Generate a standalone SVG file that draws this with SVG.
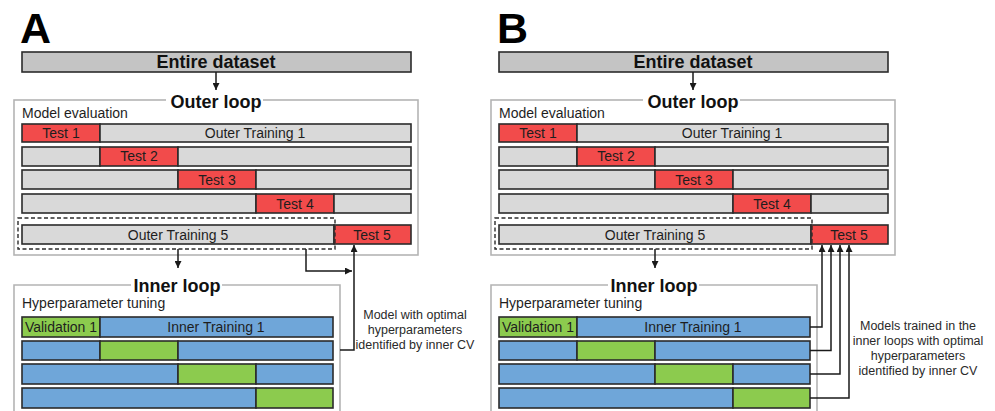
<svg xmlns="http://www.w3.org/2000/svg" width="995" height="411" viewBox="0 0 995 411">
<style>
text{font-family:"Liberation Sans",Arial,sans-serif;fill:#1e1e1e}
.big{font-size:43px;font-weight:bold;fill:#000}
.ttl{font-size:18px;font-weight:bold;text-anchor:middle;fill:#111}
.lbl{font-size:14px}
.seg{font-size:14px;text-anchor:middle}
.note{font-size:12.5px;text-anchor:middle;fill:#2a2a2a}
.bar{stroke:#2b2b2b;stroke-width:1.6}
.ds{fill:#c4c4c4}
.g{fill:#d9d9d9}
.r{fill:#f24b4b}
.b{fill:#6fa6d9}
.gr{fill:#8ccb4e}
.frame{fill:none;stroke:#b4b4b4;stroke-width:1.6}
.dash{fill:none;stroke:#2b2b2b;stroke-width:1.4;stroke-dasharray:4 2.5}
.ln{fill:none;stroke:#1a1a1a;stroke-width:1.5}
.bg{fill:#fff}
</style>
<defs>
<marker id="ah" viewBox="0 0 10 10" refX="10" refY="5" markerWidth="7" markerHeight="7" markerUnits="userSpaceOnUse" orient="auto">
<path d="M0,0 L10,5 L0,10 z" fill="#1a1a1a"/>
</marker>
</defs>

<!-- ============ PANEL A ============ -->
<g id="panelA">
<text class="big" x="20" y="43">A</text>

<g id="A-entire">
<rect class="bar ds" x="22" y="52" width="389" height="20"/>
<text class="ttl" x="216" y="68">Entire dataset</text>
</g>

<g id="A-outer">
<rect class="frame" x="14" y="100" width="404" height="155"/>
<rect class="bg" x="166" y="93" width="97" height="14"/>
<text class="ttl" x="216" y="108">Outer loop</text>
<text class="lbl" x="22" y="118">Model evaluation</text>
</g>

<g id="A-row1">
<rect class="bar r" x="22" y="124" width="78" height="18"/>
<rect class="bar g" x="100" y="124" width="311" height="18"/>
<text class="seg" x="61" y="138">Test 1</text>
<text class="seg" x="255" y="138">Outer Training 1</text>
</g>
<g id="A-row2">
<rect class="bar g" x="22" y="147" width="78" height="19"/>
<rect class="bar r" x="100" y="147" width="78" height="19"/>
<rect class="bar g" x="178" y="147" width="233" height="19"/>
<text class="seg" x="139" y="161">Test 2</text>
</g>
<g id="A-row3">
<rect class="bar g" x="22" y="170" width="156" height="19"/>
<rect class="bar r" x="178" y="170" width="78" height="19"/>
<rect class="bar g" x="256" y="170" width="155" height="19"/>
<text class="seg" x="217" y="185">Test 3</text>
</g>
<g id="A-row4">
<rect class="bar g" x="22" y="194" width="234" height="19"/>
<rect class="bar r" x="256" y="194" width="78" height="19"/>
<rect class="bar g" x="334" y="194" width="77" height="19"/>
<text class="seg" x="295" y="209">Test 4</text>
</g>
<g id="A-row5">
<rect class="bar g" x="22" y="225" width="312" height="19"/>
<rect class="bar r" x="334" y="225" width="77" height="19"/>
<rect class="dash" x="18" y="218" width="317" height="31"/>
<text class="seg" x="178" y="240">Outer Training 5</text>
<text class="seg" x="372" y="240">Test 5</text>
</g>

<g id="A-inner">
<path class="frame" d="M14,420 V285 H340 V420"/>
<rect class="bg" x="131" y="278" width="91" height="14"/>
<text class="ttl" x="177" y="292">Inner loop</text>
<text class="lbl" x="22" y="308">Hyperparameter tuning</text>
</g>
<g id="A-irow1">
<rect class="bar gr" x="22" y="317" width="78" height="20"/>
<rect class="bar b" x="100" y="317" width="233" height="20"/>
<text class="seg" x="61" y="332">Validation 1</text>
<text class="seg" x="216" y="332">Inner Training 1</text>
</g>
<g id="A-irow2">
<rect class="bar b" x="22" y="341" width="78" height="19"/>
<rect class="bar gr" x="100" y="341" width="78" height="19"/>
<rect class="bar b" x="178" y="341" width="155" height="19"/>
</g>
<g id="A-irow3">
<rect class="bar b" x="22" y="364" width="156" height="20"/>
<rect class="bar gr" x="178" y="364" width="78" height="20"/>
<rect class="bar b" x="256" y="364" width="77" height="20"/>
</g>
<g id="A-irow4">
<rect class="bar b" x="22" y="388" width="234" height="20"/>
<rect class="bar gr" x="256" y="388" width="77" height="20"/>
</g>

<g id="A-note">
<text class="note" x="415" y="319">Model with optimal</text>
<text class="note" x="415" y="334">hyperparameters</text>
<text class="note" x="415" y="349">identified by inner CV</text>
</g>

<g id="A-connectors">
<line class="ln" x1="216" y1="72" x2="216" y2="90" marker-end="url(#ah)"/>
<line class="ln" x1="178" y1="249" x2="178" y2="268" marker-end="url(#ah)"/>
<polyline class="ln" points="306,249 306,271 352,271" marker-end="url(#ah)"/>
<polyline class="ln" points="340,350 354,350 354,245" marker-end="url(#ah)"/>
</g>
</g>

<!-- ============ PANEL B ============ -->
<g id="panelB">
<text class="big" x="497" y="43">B</text>

<g id="B-entire">
<rect class="bar ds" x="499" y="52" width="389" height="20"/>
<text class="ttl" x="693" y="68">Entire dataset</text>
</g>

<g id="B-outer">
<rect class="frame" x="491" y="100" width="404" height="155"/>
<rect class="bg" x="643" y="93" width="97" height="14"/>
<text class="ttl" x="693" y="108">Outer loop</text>
<text class="lbl" x="499" y="118">Model evaluation</text>
</g>

<g id="B-row1">
<rect class="bar r" x="499" y="124" width="78" height="18"/>
<rect class="bar g" x="577" y="124" width="311" height="18"/>
<text class="seg" x="538" y="138">Test 1</text>
<text class="seg" x="732" y="138">Outer Training 1</text>
</g>
<g id="B-row2">
<rect class="bar g" x="499" y="147" width="78" height="19"/>
<rect class="bar r" x="577" y="147" width="78" height="19"/>
<rect class="bar g" x="655" y="147" width="233" height="19"/>
<text class="seg" x="616" y="161">Test 2</text>
</g>
<g id="B-row3">
<rect class="bar g" x="499" y="170" width="156" height="19"/>
<rect class="bar r" x="655" y="170" width="78" height="19"/>
<rect class="bar g" x="733" y="170" width="155" height="19"/>
<text class="seg" x="694" y="185">Test 3</text>
</g>
<g id="B-row4">
<rect class="bar g" x="499" y="194" width="234" height="19"/>
<rect class="bar r" x="733" y="194" width="78" height="19"/>
<rect class="bar g" x="811" y="194" width="77" height="19"/>
<text class="seg" x="772" y="209">Test 4</text>
</g>
<g id="B-row5">
<rect class="bar g" x="499" y="225" width="312" height="19"/>
<rect class="bar r" x="811" y="225" width="77" height="19"/>
<rect class="dash" x="495" y="218" width="317" height="31"/>
<text class="seg" x="655" y="240">Outer Training 5</text>
<text class="seg" x="849" y="240">Test 5</text>
</g>

<g id="B-inner">
<path class="frame" d="M491,420 V285 H817 V420"/>
<rect class="bg" x="608" y="278" width="91" height="14"/>
<text class="ttl" x="654" y="292">Inner loop</text>
<text class="lbl" x="499" y="308">Hyperparameter tuning</text>
</g>
<g id="B-irow1">
<rect class="bar gr" x="499" y="317" width="78" height="20"/>
<rect class="bar b" x="577" y="317" width="233" height="20"/>
<text class="seg" x="538" y="332">Validation 1</text>
<text class="seg" x="693" y="332">Inner Training 1</text>
</g>
<g id="B-irow2">
<rect class="bar b" x="499" y="341" width="78" height="19"/>
<rect class="bar gr" x="577" y="341" width="78" height="19"/>
<rect class="bar b" x="655" y="341" width="155" height="19"/>
</g>
<g id="B-irow3">
<rect class="bar b" x="499" y="364" width="156" height="20"/>
<rect class="bar gr" x="655" y="364" width="78" height="20"/>
<rect class="bar b" x="733" y="364" width="77" height="20"/>
</g>
<g id="B-irow4">
<rect class="bar b" x="499" y="388" width="234" height="20"/>
<rect class="bar gr" x="733" y="388" width="77" height="20"/>
</g>

<g id="B-note">
<text class="note" x="918" y="330">Models trained in the</text>
<text class="note" x="918" y="345">inner loops with optimal</text>
<text class="note" x="918" y="360">hyperparameters</text>
<text class="note" x="918" y="375">identified by inner CV</text>
</g>

<g id="B-connectors">
<line class="ln" x1="693" y1="72" x2="693" y2="90" marker-end="url(#ah)"/>
<line class="ln" x1="655" y1="249" x2="655" y2="268" marker-end="url(#ah)"/>
<polyline class="ln" points="810,327 822,327 822,245" marker-end="url(#ah)"/>
<polyline class="ln" points="810,350.5 831,350.5 831,245" marker-end="url(#ah)"/>
<polyline class="ln" points="810,374 840,374 840,245" marker-end="url(#ah)"/>
<polyline class="ln" points="810,398 849,398 849,245" marker-end="url(#ah)"/>
</g>
</g>
</svg>
